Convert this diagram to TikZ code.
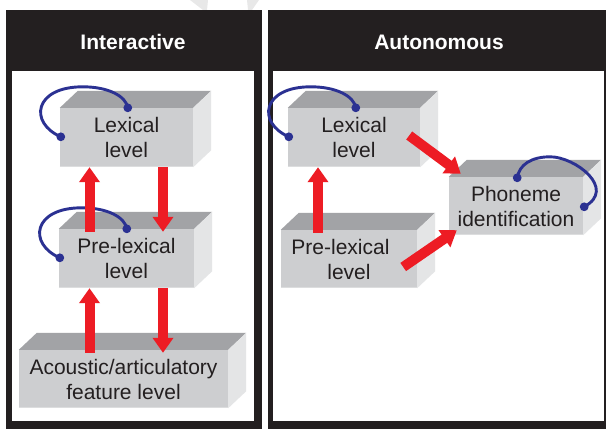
\documentclass[tikz,border=0pt]{standalone}
\usepackage{fontspec}
\setmainfont{Liberation Sans}
\usetikzlibrary{arrows.meta,calc}
\definecolor{frontc}{HTML}{CDCED0}
\definecolor{topc}{HTML}{A2A3A6}
\definecolor{sidec}{HTML}{E4E5E6}
\definecolor{edgec}{HTML}{DCDDDE}
\definecolor{loopc}{HTML}{2B3192}
\definecolor{redc}{HTML}{ED1C24}
\definecolor{framec}{HTML}{231F20}
\definecolor{textc}{HTML}{231F20}
\definecolor{wmark}{HTML}{E8E8E8}
\newcommand{\cubefaces}[1]{%
  \fill[topc] (#1.north west) -- ++(18,-17) -- ($(#1.north east)+(18,-17)$) -- (#1.north east) -- cycle;
  \fill[sidec] (#1.north east) -- ++(18,-17) -- ($(#1.south east)+(18,-17)$) -- (#1.south east) -- cycle;
  \draw[edgec, line width=1.2pt] ([yshift=0.6pt]#1.south west) -- ([yshift=0.6pt]#1.south east);}
\newcommand{\leftloop}[1]{%
  \begin{scope}[shift={(#1.north west)}]
    \draw[bloop] (1,29) .. controls (-31,15) and (-26,-21) .. (23,-21) .. controls (48,-21) and (66,-12) .. (68,0);
    \fill[loopc] (1,29) circle (4.4pt) (68,0) circle (4.4pt);
  \end{scope}}
\begin{document}
\begin{tikzpicture}[x=1pt,y=-1pt,
  front/.style={fill=frontc, inner sep=0pt, align=center, text=textc, font=\fontsize{21}{25}\selectfont},
  title/.style={text=white, font=\bfseries\fontsize{21}{25}\selectfont},
  rarrow/.style={draw=redc, line width=10pt, -{Triangle[width=20pt,length=15pt]}},
  bloop/.style={draw=loopc, line width=2.9pt}]
\useasboundingbox (0,0) rectangle (606,429);
% faint watermark
\fill[wmark] (190,0) -- (208,0) -- (207,10) -- (203,10) -- cycle;
\fill[wmark] (247,0) -- (259,0) -- (252,10) -- (248,10) -- cycle;
% panels
\fill[framec] (6,10) rectangle (262,429);
\fill[white] (12,71) rectangle (254,421);
\fill[framec] (268,10) rectangle (606,429);
\fill[white] (273,71) rectangle (604,421);
\node[title] (t1) at (133,42) {Interactive};
\node[title] (t2) at (439,42) {Autonomous};
% left boxes
\node[front, minimum width=133pt, minimum height=59pt] (lex1) at (126.5,137.5) {Lexical\\level};
\cubefaces{lex1}
\node[front, minimum width=135pt, minimum height=59pt] (pre1) at (126.5,258.5) {Pre-lexical\\level};
\cubefaces{pre1}
\node[front, minimum width=209pt, minimum height=58pt] (acou) at (123.5,379) {Acoustic/articulatory\\feature level};
\cubefaces{acou}
% right boxes
\node[front, minimum width=132pt, minimum height=59pt] (lex2) at (354,137.5) {Lexical\\level};
\cubefaces{lex2}
\node[front, minimum width=136pt, minimum height=58pt] (pre2) at (349,259) {\hspace*{-17pt}Pre-lexical\\level};
\cubefaces{pre2}
\node[front, minimum width=134pt, minimum height=58pt] (phon) at (516,206) {Phoneme\\identification};
\cubefaces{phon}
% self loops
\leftloop{lex1}
\leftloop{pre1}
\leftloop{lex2}
\begin{scope}[shift={(phon.north east)}]
  \draw[bloop] (-66,1) .. controls (-64,-12) and (-52,-20) .. (-33,-20) .. controls (-8,-20) and (34,12) .. (1,30);
  \fill[loopc] (-66,1) circle (4.4pt) (1,30) circle (4.4pt);
\end{scope}
% arrows left
\draw[rarrow] ($(pre1.south |- acou.north)+(-37,3)$) -- ($(pre1.south)+(-37,0)$);
\draw[rarrow] ($(pre1.south)+(36.5,0)$) -- ($(pre1.south |- acou.north)+(36.5,3)$);
\draw[rarrow] ($(pre1.north)+(-37,3)$) -- ($(lex1.south)+(-37,0)$);
\draw[rarrow] ($(lex1.south)+(36.5,0)$) -- ($(pre1.north)+(36.5,3)$);
% arrows right
\draw[rarrow] ($(pre2.north)+(-31,3)$) -- ($(lex2.south)+(-36,0)$);
\draw[rarrow] ($(lex2.east)+(-11,-2)$) -- ($(phon.north west)+(12,-3)$);
\draw[rarrow] ($(pre2.east)+(-14,8)$) -- ($(phon.south west)+(8,-5)$);
\end{tikzpicture}
\end{document}
